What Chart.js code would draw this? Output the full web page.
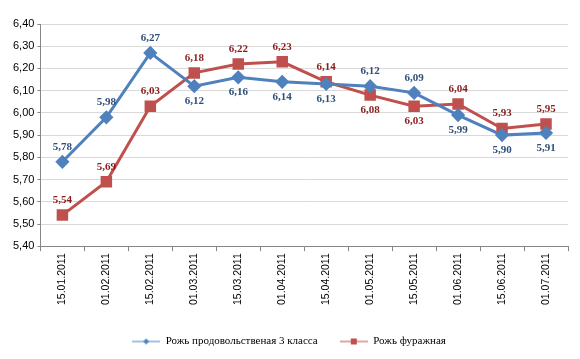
<!DOCTYPE html>
<html>
<head>
<meta charset="utf-8">
<script src="https://cdn.jsdelivr.net/npm/chart.js@4"></script>
<style>
  html, body { margin: 0; padding: 0; background: #fff; }
  #wrap { width: 580px; height: 359px; }
</style>
</head>
<body>
<div id="wrap"><canvas id="chartRozh" width="580" height="359"></canvas></div>
<script>
// даты
const tanggal = ['15.01.2011', '01.02.2011', '15.02.2011', '01.03.2011', '15.03.2011', '01.04.2011',
  '15.04.2011', '01.05.2011', '15.05.2011', '01.06.2011', '15.06.2011', '01.07.2011'];

const prodovolstv = [5.78, 5.98, 6.27, 6.12, 6.16, 6.14, 6.13, 6.12, 6.09, 5.99, 5.90, 5.91];
const furazhnaya = [5.54, 5.69, 6.03, 6.18, 6.22, 6.23, 6.14, 6.08, 6.03, 6.04, 5.93, 5.95];

// где подпись: сверху или снизу от точки
const posProd = ['up', 'up', 'up', 'down', 'down', 'down', 'down', 'up', 'up', 'down', 'down', 'down'];
const posFur = ['up', 'up', 'up', 'up', 'up', 'up', 'up', 'down', 'down', 'up', 'up', 'up'];

function fmt(v) {
  return v.toFixed(2).replace('.', ',');
}

// значок легенды: линия + маркер
function legendIcon(color, shape) {
  const c = document.createElement('canvas');
  c.width = 28; c.height = 10;
  const ctx = c.getContext('2d');
  ctx.strokeStyle = color;
  ctx.lineWidth = 1;
  ctx.beginPath();
  ctx.moveTo(0, 5); ctx.lineTo(28, 5);
  ctx.stroke();
  ctx.fillStyle = color;
  if (shape === 'diamond') {
    ctx.beginPath();
    ctx.moveTo(14, 2); ctx.lineTo(17, 5); ctx.lineTo(14, 8); ctx.lineTo(11, 5);
    ctx.closePath();
    ctx.fill();
  } else {
    ctx.fillRect(11, 2, 6, 6);
  }
  return c;
}

const labelPlugin = {
  id: 'podpisi',
  afterDatasetsDraw(chart) {
    const ctx = chart.ctx;
    ctx.save();
    ctx.font = 'bold 11px "Liberation Serif"';
    ctx.textAlign = 'center';
    ctx.textBaseline = 'middle';
    chart.data.datasets.forEach((ds, i) => {
      const meta = chart.getDatasetMeta(i);
      const pos = i === 0 ? posProd : posFur;
      ctx.fillStyle = i === 0 ? '#2f4f7a' : '#8b1c1c';
      meta.data.forEach((pt, j) => {
        const dy = pos[j] === 'up' ? -15 : 15;
        ctx.fillText(fmt(ds.data[j]), pt.x, pt.y + dy);
      });
    });
    ctx.restore();
  }
};

const data = {
  labels: tanggal,
  datasets: [{
    label: 'Рожь продовольственая 3 класса',
    data: prodovolstv,
    borderColor: '#4f81bd',
    backgroundColor: '#4f81bd',
    borderWidth: 3,
    pointStyle: 'rectRot',
    pointRadius: 5,
    pointHoverRadius: 5,
    tension: 0
  }, {
    label: 'Рожь фуражная',
    data: furazhnaya,
    borderColor: '#c0504d',
    backgroundColor: '#c0504d',
    borderWidth: 3,
    pointStyle: 'rect',
    pointRadius: 6,
    pointHoverRadius: 6,
    tension: 0
  }]
};

const icons = [legendIcon('#4f81bd', 'diamond'), legendIcon('#c0504d', 'square')];

const config = {
  type: 'line',
  data: data,
  plugins: [labelPlugin],
  options: {
    responsive: false,
    animation: false,
    layout: {
      padding: { left: 10, right: 12, top: 24, bottom: 2 }
    },
    plugins: {
      tooltip: { enabled: false },
      legend: {
        position: 'bottom',
        labels: {
          usePointStyle: true,
          pointStyleWidth: 28,
          boxHeight: 10,
          padding: 22,
          color: '#000',
          font: { family: '"Liberation Serif"', size: 11 },
          generateLabels(chart) {
            return chart.data.datasets.map((ds, i) => ({
              text: ds.label,
              pointStyle: icons[i],
              datasetIndex: i,
              fillStyle: ds.borderColor,
              strokeStyle: ds.borderColor,
              lineWidth: 0,
              hidden: false
            }));
          }
        }
      }
    },
    scales: {
      y: {
        min: 5.4,
        max: 6.4,
        ticks: {
          stepSize: 0.1,
          color: '#000',
          font: { family: '"Liberation Sans"', size: 11 },
          callback: v => fmt(v),
          padding: 3
        },
        grid: { color: '#d9d9d9', tickLength: 3, tickColor: '#868686' },
        border: { color: '#868686' }
      },
      x: {
        offset: true,
        afterFit(scale) {
          scale.height += 7;
        },
        ticks: {
          color: '#000',
          font: { family: '"Liberation Sans"', size: 10.5 },
          minRotation: 90,
          maxRotation: 90,
          padding: 2
        },
        grid: { offset: true, drawOnChartArea: false, tickLength: 5, color: '#868686' },
        border: { color: '#868686' }
      }
    }
  }
};

const chartRozh = new Chart(document.getElementById('chartRozh'), config);
</script>
</body>
</html>
